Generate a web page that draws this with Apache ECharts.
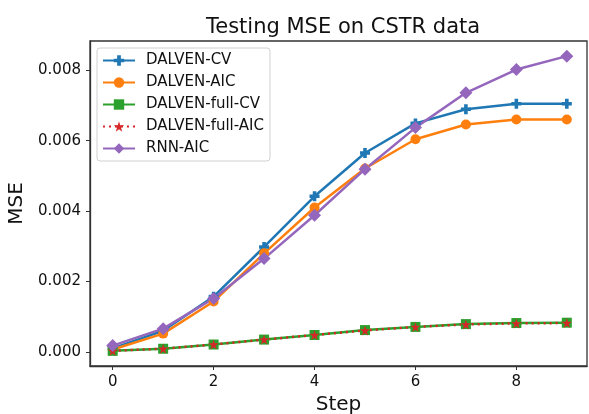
<!DOCTYPE html>
<html>
<head>
<meta charset="utf-8">
<script src="https://cdn.jsdelivr.net/npm/echarts@6/dist/echarts.min.js"></script>
<style>
  html, body { margin: 0; padding: 0; background: #fff; }
  #chart { width: 589px; height: 414px; }
</style>
</head>
<body>
<div id="chart"></div>
<script>
// data
const steps = [0, 1, 2, 3, 4, 5, 6, 7, 8, 9]
const dalvenCV = [0.0001, 0.0006, 0.00157, 0.00298, 0.00442, 0.00565, 0.00649, 0.00689, 0.00705, 0.00705]
const dalvenAIC = [0.00007, 0.00052, 0.00143, 0.0028, 0.00410, 0.00521, 0.00604, 0.00646, 0.0066, 0.0066]
const dalvenFullCV = [0.00003, 0.00009, 0.00021, 0.00035, 0.00048, 0.00062, 0.00071, 0.00079, 0.00082, 0.00083]
const dalvenFullAIC = [0.00003, 0.00009, 0.00021, 0.00035, 0.00048, 0.00061, 0.00071, 0.00078, 0.00081, 0.00082]
const rnnAIC = [0.00018, 0.00066, 0.00152, 0.00265, 0.00388, 0.00519, 0.00637, 0.00736, 0.00802, 0.0084]
const xTicks = [0, 2, 4, 6, 8]
const yTicks = [0, 0.002, 0.004, 0.006, 0.008]

const font = 'DejaVu Sans'
const plusPath = 'path://M3.2,0H6.8V3.2H10V6.8H6.8V10H3.2V6.8H0V3.2H3.2Z'
const starPath = 'path://M50,0L61.8,35.5L100,36.3L69.4,58.8L80.9,95L50,73.2L19.1,95L30.6,58.8L0,36.3L38.2,35.5Z'

function pairs(vals) {
    return steps.map((s, i) => [s, vals[i]])
}

const chart = echarts.init(document.getElementById('chart'))

const option = {
    animation: false,
    title: {
        text: 'Testing MSE on CSTR data',
        left: 201,
        top: 12,
        textStyle: { fontFamily: font, fontSize: 21, fontWeight: 'normal', color: '#111' }
    },
    legend: {
        orient: 'vertical',
        left: 97,
        top: 48,
        itemWidth: 32,
        itemHeight: 13,
        itemGap: 7,
        padding: [5, 6, 5, 5],
        backgroundColor: '#fff',
        borderColor: '#d0d0d0',
        borderWidth: 1,
        borderRadius: 3,
        textStyle: { fontFamily: font, fontSize: 15, color: '#111', padding: [0, 0, 0, 6] },
        data: ['DALVEN-CV', 'DALVEN-AIC', 'DALVEN-full-CV', 'DALVEN-full-AIC', 'RNN-AIC']
    },
    grid: {
        left: 90,
        right: 2,
        top: 41,
        bottom: 48,
        outerBoundsMode: 'none',
        show: true,
        borderColor: '#333',
        borderWidth: 1.3
    },
    xAxis: {
        type: 'value',
        min: -0.45,
        max: 9.4,
        name: 'Step',
        nameLocation: 'middle',
        nameGap: 29,
        nameTextStyle: { fontFamily: font, fontSize: 20, color: '#111' },
        splitLine: { show: false },
        axisLine: { onZero: false, lineStyle: { color: '#333', width: 1.3 } },
        axisTick: { length: 4, lineStyle: { color: '#333' }, customValues: xTicks },
        axisLabel: { fontFamily: font, fontSize: 15, color: '#111', margin: 9, customValues: xTicks }
    },
    yAxis: {
        type: 'value',
        min: -0.0004,
        max: 0.00883,
        name: 'MSE',
        nameLocation: 'middle',
        nameGap: 53,
        nameTextStyle: { fontFamily: font, fontSize: 20, color: '#111' },
        splitLine: { show: false },
        axisLine: { onZero: false, lineStyle: { color: '#333', width: 1.3 } },
        axisTick: { length: 4, lineStyle: { color: '#333' }, customValues: yTicks },
        axisLabel: {
            fontFamily: font, fontSize: 15, color: '#111', margin: 9,
            customValues: yTicks,
            formatter: v => v.toFixed(3)
        }
    },
    series: [
        {
            name: 'DALVEN-CV',
            type: 'line',
            data: pairs(dalvenCV),
            symbol: plusPath,
            symbolSize: 10,
            color: '#1f77b4',
            lineStyle: { width: 2.5 }
        },
        {
            name: 'DALVEN-AIC',
            type: 'line',
            data: pairs(dalvenAIC),
            symbol: 'circle',
            symbolSize: 10,
            color: '#ff7f0e',
            lineStyle: { width: 2.5 }
        },
        {
            name: 'DALVEN-full-CV',
            type: 'line',
            data: pairs(dalvenFullCV),
            symbol: 'rect',
            symbolSize: 10,
            color: '#2ca02c',
            lineStyle: { width: 2.5 }
        },
        {
            name: 'DALVEN-full-AIC',
            type: 'line',
            data: pairs(dalvenFullAIC),
            symbol: starPath,
            symbolSize: 10,
            color: '#d62728',
            lineStyle: { width: 2.5, type: [2, 4] }
        },
        {
            name: 'RNN-AIC',
            type: 'line',
            data: pairs(rnnAIC),
            symbol: 'diamond',
            symbolSize: 13,
            color: '#9467bd',
            lineStyle: { width: 2.5 }
        }
    ]
}

chart.setOption(option)
</script>
</body>
</html>
